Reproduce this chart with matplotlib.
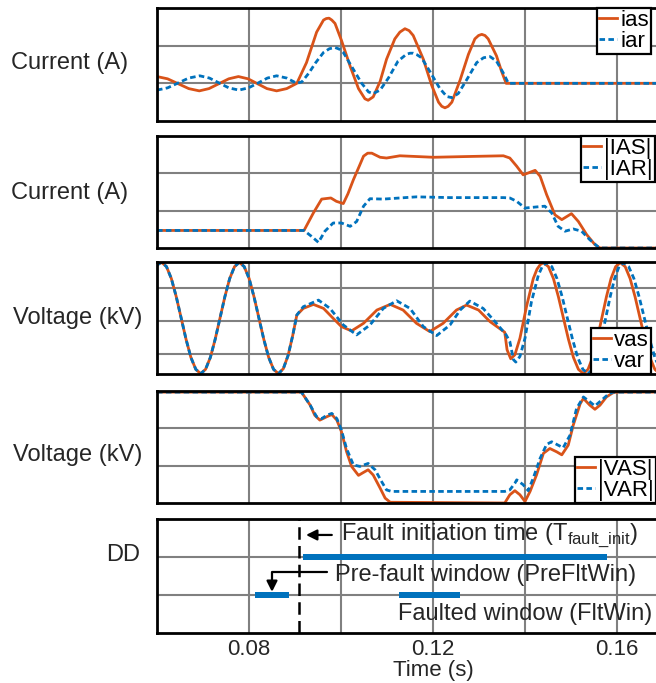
import numpy as np
import matplotlib.pyplot as plt

plt.rcParams['font.family'] = ['Liberation Sans', 'DejaVu Sans']
plt.rcParams['mathtext.fontset'] = 'custom'
plt.rcParams['mathtext.rm'] = 'Liberation Sans'

RED = '#D95319'
BLUE = '#0072BD'
TXT = '#262626'

# ---- data (time in ms, values in panel units) ----
ias_t = [60.0, 62.3, 64.6, 66.9, 69.2, 71.3, 73.45, 75.6, 77.7, 79.8, 81.85, 83.9, 86.0,
         88.2, 90.4, 92.5, 94.7, 96.2, 96.8, 97.4, 98.0, 98.7, 100.1, 102.0, 103.8, 105.2,
         105.9, 107.0, 108.5, 109.9, 111.7, 112.8, 113.9, 114.8, 115.7, 117.9, 119.7,
         121.2, 121.9, 122.6, 123.3, 124.1, 125.9, 127.7, 129.1, 129.9, 130.6, 131.3,
         132.0, 133.8, 134.9, 135.9, 180.0]
ias_v = [0.18, 0.12, -0.01, -0.14, -0.20, -0.14, -0.01, 0.12, 0.18, 0.12, -0.01, -0.14, -0.20,
         -0.14, 0.0, 0.55, 1.36, 1.68, 1.72, 1.73, 1.68, 1.59, 1.14, 0.45, -0.14, -0.41,
         -0.45, -0.36, 0.05, 0.64, 1.18, 1.36, 1.45, 1.40, 1.27, 0.64, -0.05,
         -0.50, -0.61, -0.65, -0.61, -0.50, 0.09, 0.77, 1.18, 1.27, 1.30, 1.27,
         1.18, 0.73, 0.32, 0.0, 0.0]

iar_t = [60.0, 62.3, 64.6, 66.9, 69.3, 71.4, 73.5, 75.6, 77.8, 79.9, 82.0, 84.0, 86.0,
         88.2, 90.4, 91.5, 93.0, 94.5, 96.2, 97.5, 98.7, 99.6, 100.5, 102.3, 104.5, 106.0,
         107.0, 108.5, 110.3, 112.4, 114.2, 115.0, 115.7, 116.5, 117.5, 119.3, 121.5, 123.0,
         124.1, 125.5, 127.3, 129.5, 131.0, 132.4, 133.8, 135.3, 136.4, 180.0]
iar_v = [-0.18, -0.12, 0.01, 0.14, 0.20, 0.14, 0.01, -0.12, -0.18, -0.12, 0.01, 0.14, 0.20,
         0.14, 0.0, 0.04, 0.27, 0.55, 0.82, 0.92, 0.95, 0.91, 0.82, 0.45, 0.0, -0.23,
         -0.27, -0.18, 0.14, 0.59, 0.77, 0.80, 0.80, 0.76, 0.68, 0.32, -0.14, -0.35,
         -0.38, -0.27, 0.09, 0.55, 0.68, 0.71, 0.59, 0.27, 0.0, 0.0]

IAS_t = [60.0, 91.96, 94.0, 95.8, 97.8, 99.0, 100.5, 101.5, 102.7, 104.0, 104.9, 105.8,
         106.7, 108.5, 109.9, 112.8, 120.1, 127.3, 135.3, 136.7, 138.2, 139.6, 140.7, 142.2,
         143.3, 144.7, 146.5, 148.0, 150.1, 151.6, 153.4, 155.2, 156.3, 180.0]
IAS_v = [0.47, 0.47, 0.94, 1.31, 1.34, 1.25, 1.19, 1.45, 1.83, 2.20, 2.46, 2.54,
         2.54, 2.43, 2.41, 2.47, 2.43, 2.45, 2.47, 2.41, 2.19, 1.96, 2.01, 2.08,
         1.92, 1.43, 0.89, 0.76, 0.92, 0.71, 0.36, 0.09, 0.0, 0.0]

IAR_t = [60.0, 91.96, 93.6, 95.1, 96.5, 98.3, 100.1, 102.0, 103.4, 104.9, 106.3, 109.2,
         116.4, 123.7, 130.9, 135.3, 136.7, 138.2, 140.0, 142.5, 144.3, 145.8, 147.2,
         148.7, 150.5, 152.3, 154.1, 155.9, 157.0, 180.0]
IAR_v = [0.47, 0.47, 0.31, 0.15, 0.45, 0.67, 0.67, 0.58, 0.71, 1.12, 1.32, 1.31,
         1.37, 1.35, 1.35, 1.35, 1.34, 1.25, 1.07, 1.10, 1.12, 0.94, 0.58,
         0.45, 0.51, 0.45, 0.22, 0.03, 0.0, 0.0]

va_pre_t = [60.0, 61.0, 62.06, 63.12, 64.19, 65.25, 66.31, 67.37, 68.44, 69.5,
            70.55, 71.6, 72.65, 73.7, 74.75, 75.8, 76.85, 77.9,
            78.96, 80.03, 81.09, 82.15, 83.21, 84.28, 85.34, 86.4,
            87.46, 88.5, 89.5, 90.4]
va_pre_v = [1.68, 1.76, 1.63, 1.27, 0.72, 0.08, -0.56, -1.11, -1.47, -1.60,
            -1.47, -1.11, -0.56, 0.08, 0.72, 1.27, 1.63, 1.76,
            1.63, 1.27, 0.72, 0.08, -0.56, -1.11, -1.47, -1.60,
            -1.45, -1.05, -0.45, 0.17]

vas_t = va_pre_t + [91.8, 94.0, 96.2, 98.3, 100.1, 102.3, 104.9, 107.8, 110.7, 113.5,
                    116.4, 119.3, 122.2, 125.1, 127.3, 129.9, 132.4, 134.9, 135.6, 136.1,
                    136.9, 137.8, 138.9, 140.4, 141.8, 142.6, 143.3, 144.0,
                    145.09, 146.18, 147.26, 148.35, 149.44, 150.53, 151.61, 152.7,
                    153.7, 154.7, 155.7, 156.7, 157.7, 158.7, 159.7, 160.7,
                    161.78, 162.85, 163.93, 165.0, 166.08, 167.15, 168.23, 169.3,
                    170.4, 171.5, 172.5]
vas_v = va_pre_v + [0.37, 0.49, 0.37, 0.07, -0.18, -0.31, -0.08, 0.32, 0.49, 0.32,
                    -0.08, -0.33, -0.08, 0.32, 0.47, 0.32, -0.03, -0.28, -0.35, -0.88,
                    -1.15, -1.03, -0.53, 0.47, 1.27, 1.55, 1.69, 1.75,
                    1.63, 1.27, 0.72, 0.08, -0.56, -1.11, -1.47, -1.60,
                    -1.47, -1.11, -0.56, 0.08, 0.72, 1.27, 1.63, 1.75,
                    1.63, 1.27, 0.72, 0.08, -0.56, -1.11, -1.47, -1.60,
                    -1.47, -1.11, -0.56]

var_t = va_pre_t + [91.8, 95.1, 97.6, 100.5, 103.4, 106.3, 109.2, 112.1, 115.0, 117.9,
                    120.8, 123.7, 125.9, 128.0, 130.9, 133.8, 135.9, 136.7, 137.5, 138.0,
                    138.9, 140.0, 141.4, 142.9, 143.8, 144.7,
                    145.83, 146.95, 148.08, 149.2, 150.33, 151.45, 152.58, 153.7,
                    154.66, 155.63, 156.59, 157.55, 158.51, 159.48, 160.44, 161.4,
                    162.54, 163.68, 164.81, 165.95, 167.09, 168.23, 169.36, 170.5,
                    171.6, 172.7]
var_v = va_pre_v + [0.42, 0.62, 0.37, -0.13, -0.43, -0.13, 0.37, 0.60, 0.37, -0.18,
                    -0.45, -0.13, 0.32, 0.59, 0.37, -0.08, -0.43, -0.63, -1.18, -1.25,
                    -1.08, -0.53, 0.57, 1.37, 1.65, 1.75,
                    1.63, 1.27, 0.72, 0.08, -0.56, -1.11, -1.47, -1.60,
                    -1.47, -1.11, -0.56, 0.08, 0.72, 1.27, 1.63, 1.75,
                    1.63, 1.27, 0.72, 0.08, -0.56, -1.11, -1.47, -1.60,
                    -1.47, -1.11]

VAS_t = [60.0, 91.4, 93.3, 94.3, 95.4, 96.9, 98.0, 99.1, 100.1, 101.2, 102.3, 103.8,
         104.9, 105.9, 107.0, 108.5, 109.6, 110.7, 135.6, 136.7, 137.8, 138.9, 140.0,
         141.1, 142.5, 144.0, 145.4, 146.9, 148.0, 149.4, 150.5, 152.0, 152.7, 154.1,
         155.2, 156.3, 157.7, 159.1, 159.9, 180.0]
VAS_v = [2.97, 2.97, 2.62, 2.35, 2.22, 2.31, 2.37, 2.22, 1.91, 1.38, 0.98, 0.74,
         0.82, 0.89, 0.75, 0.40, 0.13, 0.02, 0.0, 0.22, 0.33, 0.22, 0.04,
         0.31, 0.75, 1.33, 1.46, 1.37, 1.29, 1.55, 2.09, 2.66, 2.80, 2.62,
         2.51, 2.62, 2.84, 2.95, 2.97, 2.97]

VAR_t = [60.0, 91.4, 93.3, 94.7, 95.8, 96.9, 98.0, 99.1, 100.1, 101.2, 102.7, 104.1,
         105.9, 107.4, 108.8, 109.9, 111.0, 135.6, 136.7, 137.8, 138.2, 139.6, 140.7,
         141.8, 143.3, 144.7, 145.8, 147.2, 148.3, 149.8, 151.2, 152.7, 154.1, 155.2,
         156.6, 158.0, 159.1, 180.0]
VAR_v = [2.97, 2.97, 2.62, 2.31, 2.26, 2.35, 2.40, 2.26, 1.95, 1.46, 1.02, 0.98,
         1.06, 0.89, 0.58, 0.35, 0.31, 0.31, 0.35, 0.53, 0.62, 0.49, 0.33,
         0.67, 1.20, 1.57, 1.64, 1.55, 1.48, 1.82, 2.53, 2.84, 2.71, 2.60,
         2.75, 2.90, 2.97, 2.97]

# DD panel: window bars (s)
dd_rows = [2, 1, 1]
dd_start = [0.0917, 0.0812, 0.1125]
dd_end = [0.1578, 0.0887, 0.1259]
fault_t = 0.0909

tick_pos = [0.06, 0.08, 0.10, 0.12, 0.14, 0.16, 0.18]
tick_lab = ['', '0.08', '', '0.12', '', '0.16', '']

# ---- figure ----
W, H = 656, 683
fig = plt.figure(figsize=(W / 100, H / 100), dpi=100)


def add_panel(top, bottom, ylim, yticks):
    # axes run past the right edge of the figure, like the cropped original
    ax = fig.add_axes([157 / W, 1 - bottom / H, 552 / W, (bottom - top) / H])
    ax.set_xlim(0.06, 0.18)
    ax.set_ylim(*ylim)
    ax.set_xticks(tick_pos)
    ax.set_xticklabels(tick_lab)
    ax.set_yticks(yticks)
    ax.grid(True, color='#808080', lw=1.5)
    ax.set_axisbelow(True)
    ax.tick_params(length=0, labelleft=False, labelbottom=False)
    for s in ax.spines.values():
        s.set_linewidth(2)
        s.set_color('k')
    return ax


def draw_pair(ax, t1, v1, t2, v2, labels, loc, anchor):
    ax.plot(np.array(t1) / 1000, v1, color=RED, lw=2.0, label=labels[0],
            solid_joinstyle='round')
    ax.plot(np.array(t2) / 1000, v2, color=BLUE, lw=2.0, dashes=(2, 1.2), label=labels[1])
    leg = ax.legend(loc=loc, bbox_to_anchor=anchor, fontsize=16, handlelength=0.8,
                    handletextpad=0.15, borderpad=0.1, labelspacing=0.0,
                    borderaxespad=0, fancybox=False, framealpha=1)
    leg.get_frame().set_edgecolor('k')
    leg.get_frame().set_linewidth(1.6)


ax1 = add_panel(8, 121, (-1.0, 2.0), [0, 1])
draw_pair(ax1, ias_t, ias_v, iar_t, iar_v, ['ias', 'iar'], 'upper left', (0.797, 1.0))

ax2 = add_panel(136, 248, (0, 3), [1, 2])
draw_pair(ax2, IAS_t, IAS_v, IAR_t, IAR_v, ['|IAS|', '|IAR|'], 'upper left', (0.768, 1.0))

ax3 = add_panel(262, 374, (-1.61, 1.77), [-1, 0, 1])
draw_pair(ax3, vas_t, vas_v, var_t, var_v, ['vas', 'var'], 'lower left', (0.786, 0.0))

ax4 = add_panel(391, 503, (0, 3), [1, 2])
draw_pair(ax4, VAS_t, VAS_v, VAR_t, VAR_v, ['|VAS|', '|VAR|'], 'lower left', (0.757, 0.0))

ax5 = add_panel(519, 633, (0, 3), [1, 2])
ax5.barh(dd_rows, np.array(dd_end) - np.array(dd_start), left=dd_start,
         height=0.18, color=BLUE)
ax5.axvline(fault_t, color='k', lw=1.8, dashes=(5, 2.5))
ax5.tick_params(labelbottom=True, labelsize=16, pad=4, labelcolor=TXT)
ax5.set_xlabel('Time (s)', fontsize=16, labelpad=0, color=TXT)

arrow = dict(arrowstyle='-|>', color='k', lw=1.6, mutation_scale=16, shrinkA=0, shrinkB=0)
ax5.annotate('', xy=(0.0924, 2.58), xytext=(0.098, 2.58), arrowprops=arrow)
ax5.text(0.0999, 2.58, r'Fault initiation time (T$_{\mathregular{fault\_init}}$)',
         fontsize=17, color=TXT, va='center', ha='left')
ax5.annotate('', xy=(0.085, 1.08), xytext=(0.097, 1.61),
             arrowprops=dict(arrow, connectionstyle='angle,angleA=180,angleB=90,rad=0'))
ax5.text(0.0987, 1.53, 'Pre-fault window (PreFltWin)', fontsize=17, color=TXT,
         va='center', ha='left')
ax5.text(0.1124, 0.5, 'Faulted window (FltWin)', fontsize=17, color=TXT,
         va='center', ha='left')

# y labels, horizontal as in the original
for txt, xr, yc in [('Current (A)', 128, 63), ('Current (A)', 128, 193),
                    ('Voltage (kV)', 142, 318), ('Voltage (kV)', 142, 455),
                    ('DD', 140, 555)]:
    fig.text(xr / W, 1 - yc / H, txt, fontsize=17, color=TXT, ha='right', va='center')

fig.savefig('out.png', dpi=100)
